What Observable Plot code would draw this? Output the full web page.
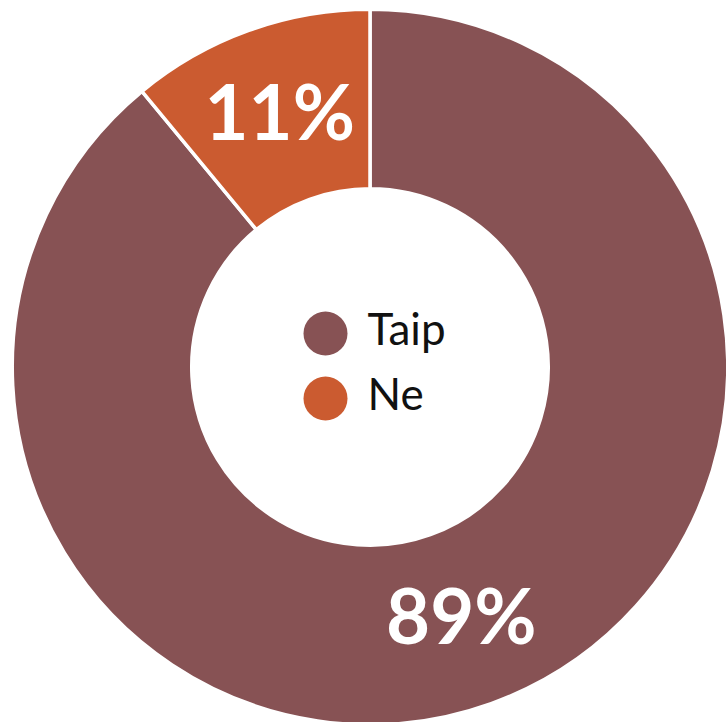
<!DOCTYPE html>
<html>
<head>
<meta charset="utf-8">
<script src="https://cdn.jsdelivr.net/npm/d3@7"></script>
<script src="https://cdn.jsdelivr.net/npm/@observablehq/plot@0.6"></script>
<style>
  html, body { margin: 0; padding: 0; background: #ffffff; }
  #chart { width: 726px; height: 722px; overflow: hidden; }
</style>
</head>
<body>
<div id="chart"></div>
<script>
const categories = ["Taip", "Ne"];
const values = [89, 11];
const labels = ["89%", "11%"];
const colors = ["#875254", "#CB5B30"];

const W = 726, H = 722;
const cx = 370, cy = 367, R = 356;   // layout (pixels)
const innerRatio = 180 / 356;

const rows = categories.map((c, i) => ({category: c, value: values[i], label: labels[i]}));
const arcs = d3.pie().sort(null).value(d => d.value)(rows);
const midR = (1 + innerRatio) / 2;
const labelRows = arcs.map(a => {
  const ang = (a.startAngle + a.endAngle) / 2;
  return {label: a.data.label, category: a.data.category, x: midR * Math.sin(ang), y: midR * Math.cos(ang)};
});

const legendX = (325 - cx) / R;
const legendTextX = (367 - cx) / R;
const legendY = [(cy - 333) / R, (cy - 398) / R];
const legendRows = categories.map((c, i) => ({category: c, y: legendY[i]}));

function donut(index, scales) {
  const x = scales.x, y = scales.y, color = scales.color;
  const px = x(0), py = y(0);
  const rOuter = x(1) - px;
  const rInner = x(innerRatio) - px;
  const g = d3.create("svg:g").attr("transform", `translate(${px},${py})`);
  const arcGen = d3.arc().innerRadius(rInner - 1.75).outerRadius(rOuter + 1.75);
  g.selectAll("path").data(arcs).join("path")
    .attr("d", arcGen)
    .attr("fill", d => color(d.data.category))
    .attr("stroke", "#ffffff")
    .attr("stroke-width", 3.5)
    .attr("stroke-linejoin", "miter");
  return g.node();
}

const chart = Plot.plot({
  width: W,
  height: H,
  margin: 0,
  style: {background: "#ffffff", fontFamily: "Lato, sans-serif"},
  x: {domain: [-cx / R, (W - cx) / R], axis: null},
  y: {domain: [(cy - H) / R, cy / R], axis: null},
  color: {domain: categories, range: colors},
  marks: [
    donut,
    Plot.text(labelRows, {
      x: "x", y: "y", text: "label",
      fill: "#ffffff", fontSize: 76, fontWeight: "bold",
      fontFamily: "Lato, sans-serif", textAnchor: "middle", lineAnchor: "middle"
    }),
    Plot.dot(legendRows, {x: () => legendX, y: "y", r: 22, fill: "category", stroke: null}),
    Plot.text(legendRows, {
      x: () => legendTextX, y: "y", text: "category",
      fill: "#111111", fontSize: 44, textAnchor: "start", lineAnchor: "middle",
      fontFamily: "Lato, sans-serif", dy: -3
    })
  ]
});
document.getElementById("chart").appendChild(chart);
</script>
</body>
</html>
